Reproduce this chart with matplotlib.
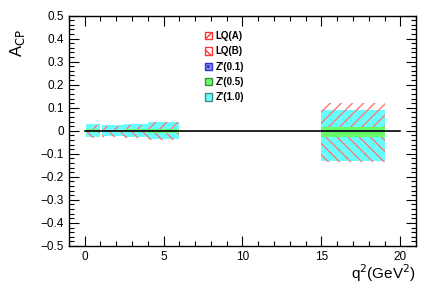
import numpy as np
import matplotlib.pyplot as plt
from matplotlib.patches import Patch
from matplotlib.ticker import MultipleLocator

plt.rcParams['font.family'] = ['Liberation Sans', 'DejaVu Sans']
plt.rcParams['hatch.linewidth'] = 1.0

# q^2 bins (GeV^2)
bin_lo = [0.1, 1.1, 2.5, 4.0, 15.0]
bin_hi = [0.98, 2.5, 4.0, 6.0, 19.0]

# bands for A_CP in each bin
lqa_lo = [0.0, 0.0, 0.0, 0.0, 0.0]
lqa_hi = [0.026, 0.022, 0.026, 0.036, 0.122]
lqb_lo = [-0.03, -0.026, -0.03, -0.042, -0.136]
lqb_hi = [0.0, 0.0, 0.0, 0.0, 0.0]
z01_lo = [-0.002, -0.002, -0.002, -0.002, -0.005]
z01_hi = [0.002, 0.002, 0.002, 0.002, 0.005]
z05_lo = [-0.006, -0.005, -0.006, -0.008, -0.028]
z05_hi = [0.006, 0.005, 0.006, 0.008, 0.016]
z10_lo = [-0.026, -0.022, -0.026, -0.036, -0.13]
z10_hi = [0.03, 0.026, 0.03, 0.04, 0.09]

fig = plt.figure(figsize=(4.33, 2.89), dpi=100)
ax = fig.add_axes([0.159, 0.149, 0.802, 0.797])

def band(lo, hi, **kw):
    for i in range(len(bin_lo)):
        ax.fill_between([bin_lo[i], bin_hi[i]], [lo[i], lo[i]], [hi[i], hi[i]], **kw)

band(z10_lo, z10_hi, color='#66ffff', lw=0)
band(lqa_lo, lqa_hi, facecolor='none', edgecolor='#ff7777', hatch='///', lw=0)
band(lqb_lo, lqb_hi, facecolor='none', edgecolor='#ff7777', hatch='\\\\\\', lw=0)
band(z05_lo, z05_hi, color='#66ff66', lw=0)
band(z01_lo, z01_hi, facecolor='#8888ff', edgecolor='#3333cc', hatch='..', lw=0)

ax.plot([0, 20], [0, 0], color='black', lw=1.2)

ax.set_xlim(-1, 21)
ax.set_ylim(-0.5, 0.5)
ax.xaxis.set_major_locator(MultipleLocator(5))
ax.xaxis.set_minor_locator(MultipleLocator(1))
ax.yaxis.set_major_locator(MultipleLocator(0.1))
ax.yaxis.set_minor_locator(MultipleLocator(0.02))
ax.tick_params(which='both', direction='in', top=True, right=True, labelsize=8.5, width=0.8)
ax.tick_params(which='major', length=7.5)
ax.tick_params(which='minor', length=3.5)
ax.set_yticks(np.round(np.arange(-0.5, 0.51, 0.1), 1))
ax.set_yticklabels(['\u22120.5', '\u22120.4', '\u22120.3', '\u22120.2', '\u22120.1', '0',
                    '0.1', '0.2', '0.3', '0.4', '0.5'])
for s in ax.spines.values():
    s.set_linewidth(1.0)

fig.text(0.04, 0.85, r'A$_{\rm CP}$', rotation=90, fontsize=12, ha='center', va='center')
fig.text(0.961, 0.055, r'q$^{2}$(GeV$^{2}$)', fontsize=11, ha='right', va='center')

handles = [
    Patch(facecolor='white', edgecolor='#ff3333', hatch='///', label='LQ(A)'),
    Patch(facecolor='white', edgecolor='#ff3333', hatch='\\\\\\', label='LQ(B)'),
    Patch(facecolor='#8888ff', edgecolor='#3333cc', hatch='..', label="Z'(0.1)"),
    Patch(facecolor='#66ff66', edgecolor='#448844', label="Z'(0.5)"),
    Patch(facecolor='#66ffff', edgecolor='#448888', label="Z'(1.0)"),
]
leg = ax.legend(handles=handles, loc='upper left', bbox_to_anchor=(0.38, 0.95),
                frameon=False, fontsize=7, handlelength=0.8, handleheight=0.8,
                handletextpad=0.3, labelspacing=0.55, borderaxespad=0)
for t in leg.get_texts():
    t.set_fontweight('bold')

fig.savefig('out.png', dpi=100)
